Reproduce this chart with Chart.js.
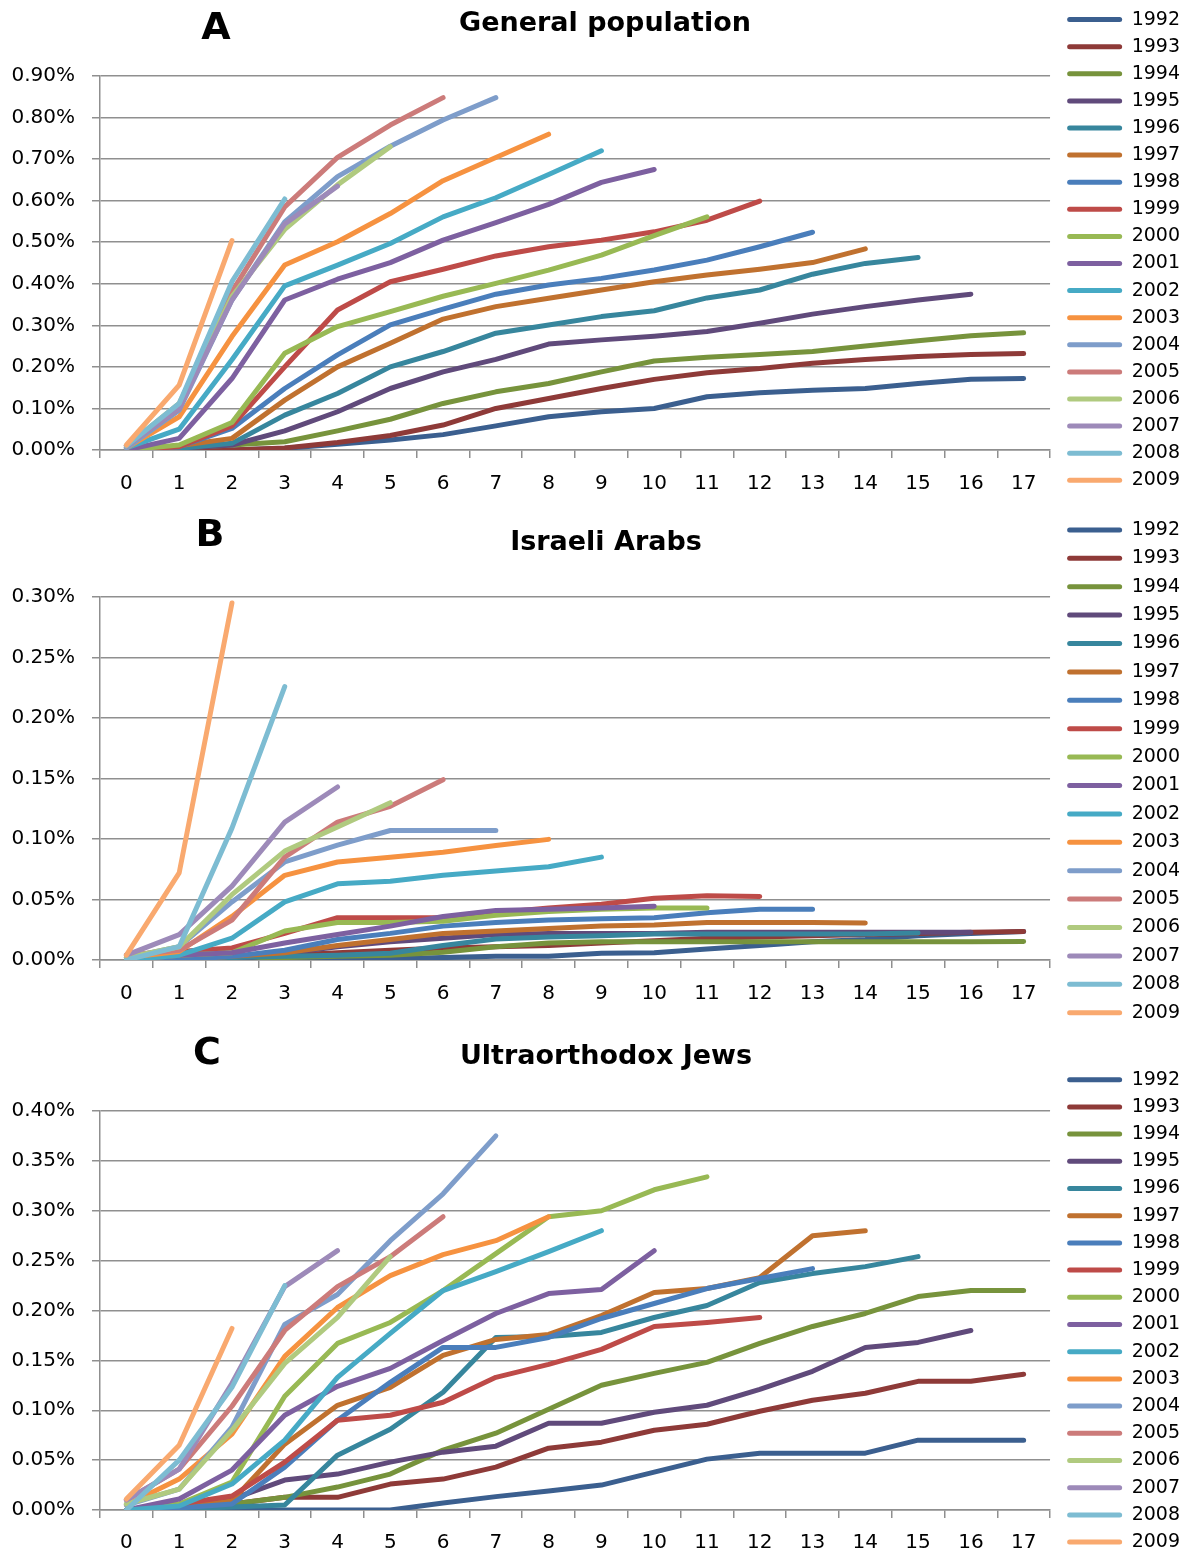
<!DOCTYPE html>
<html>
<head>
<meta charset="utf-8">
<script src="https://cdn.jsdelivr.net/npm/chart.js@4.4.1/dist/chart.umd.min.js"></script>
<style>
  html, body { margin: 0; padding: 0; background: #fff; overflow: hidden; width: 1188px; height: 1556px; }
  canvas { position: absolute; left: 2px; }
  .t { position: absolute; font-family: 'DejaVu Sans'; font-weight: bold; color: #000;
       transform: translate(-50%, -50%); white-space: nowrap; line-height: 1; z-index: 2; }
</style>
</head>
<body>
<div class="t" style="left:216px;top:26px;font-size:38px">A</div>
<div class="t" style="left:605px;top:21px;font-size:27px">General population</div>
<div class="t" style="left:210px;top:533px;font-size:38px">B</div>
<div class="t" style="left:606px;top:540px;font-size:27px">Israeli Arabs</div>
<div class="t" style="left:207px;top:1051px;font-size:38px">C</div>
<div class="t" style="left:606px;top:1054px;font-size:27px">Ultraorthodox Jews</div>

<canvas id="chartA" width="1188" height="500" style="top:2px;width:1188px;height:500px"></canvas>
<canvas id="chartB" width="1188" height="525" style="top:511px;width:1188px;height:525px"></canvas>
<canvas id="chartC" width="1188" height="500" style="top:1062px;width:1188px;height:500px"></canvas>

<script>
// years since cohort start
const steps = ['0','1','2','3','4','5','6','7','8','9','10','11','12','13','14','15','16','17'];
const years = ['1992','1993','1994','1995','1996','1997','1998','1999','2000',
               '2001','2002','2003','2004','2005','2006','2007','2008','2009'];
const colors = ['#3B5F8F','#8E3A38','#77933C','#604A7B','#37869D','#C0712F','#4A7EBB','#BE4B48','#98B954',
                '#7D60A0','#46AAC5','#F69240','#7E9DCA','#CC7B7A','#B0CA7F','#9D8AB9','#7DBCD2','#F9A96F'];

// cumulative %, one row per year (1992 .. 2009)
const generalPopulation = [
  [0,0,0,0.004,0.014,0.024,0.037,0.058,0.080,0.092,0.100,0.128,0.138,0.144,0.148,0.160,0.170,0.172],
  [0,0,0,0.005,0.018,0.035,0.060,0.100,0.124,0.148,0.170,0.186,0.196,0.209,0.218,0.225,0.230,0.232],
  [0,0.005,0.012,0.020,0.046,0.074,0.112,0.140,0.160,0.188,0.214,0.223,0.230,0.237,0.250,0.263,0.275,0.282],
  [0,0.004,0.012,0.046,0.092,0.148,0.188,0.218,0.255,0.265,0.274,0.285,0.305,0.327,0.345,0.361,0.375],
  [0,0.004,0.016,0.084,0.136,0.200,0.237,0.281,0.301,0.321,0.335,0.366,0.385,0.423,0.449,0.463],
  [0,0.010,0.028,0.120,0.200,0.257,0.315,0.345,0.365,0.385,0.405,0.421,0.435,0.451,0.484],
  [0,0.008,0.052,0.148,0.229,0.301,0.339,0.375,0.397,0.413,0.433,0.457,0.489,0.524],
  [0,0.008,0.058,0.200,0.337,0.405,0.435,0.467,0.489,0.505,0.525,0.553,0.599],
  [0,0.012,0.066,0.233,0.297,0.333,0.370,0.401,0.433,0.469,0.516,0.561],
  [0,0.028,0.172,0.361,0.411,0.451,0.505,0.547,0.591,0.644,0.675],
  [0.005,0.050,0.217,0.395,0.445,0.497,0.561,0.607,0.663,0.720],
  [0.005,0.080,0.273,0.445,0.501,0.569,0.648,0.704,0.760],
  [0.005,0.096,0.361,0.549,0.658,0.731,0.794,0.848],
  [0.010,0.100,0.381,0.585,0.704,0.782,0.848],
  [0.010,0.112,0.369,0.531,0.638,0.730],
  [0.010,0.100,0.361,0.544,0.635],
  [0.010,0.112,0.405,0.604],
  [0.012,0.156,0.504]
];

const israeliArabs = [
  [0,0,0,0,0,0.001,0.002,0.003,0.003,0.0055,0.006,0.009,0.012,0.015,0.017,0.020,0.022,0.0235],
  [0,0,0.002,0.004,0.006,0.008,0.010,0.011,0.012,0.014,0.016,0.018,0.019,0.020,0.021,0.022,0.023,0.0235],
  [0,0,0.001,0.002,0.003,0.004,0.0064,0.011,0.014,0.015,0.015,0.015,0.015,0.015,0.015,0.015,0.015,0.0152],
  [0,0,0,0.0055,0.011,0.015,0.018,0.021,0.022,0.022,0.022,0.023,0.023,0.023,0.023,0.023,0.023],
  [0,0,0.002,0.003,0.004,0.0055,0.012,0.0174,0.019,0.020,0.0215,0.0215,0.0215,0.0215,0.0215,0.0224],
  [0,0,0.003,0.006,0.012,0.017,0.022,0.024,0.026,0.028,0.029,0.031,0.031,0.031,0.0306],
  [0,0,0.003,0.008,0.017,0.022,0.028,0.031,0.033,0.034,0.035,0.039,0.042,0.042],
  [0,0.007,0.010,0.022,0.035,0.035,0.035,0.039,0.043,0.046,0.051,0.053,0.0525],
  [0,0.004,0.006,0.024,0.031,0.031,0.032,0.037,0.040,0.042,0.043,0.043],
  [0,0.004,0.006,0.014,0.021,0.028,0.036,0.041,0.042,0.043,0.0445],
  [0,0.004,0.018,0.048,0.063,0.065,0.070,0.0735,0.077,0.085],
  [0.002,0.007,0.036,0.070,0.081,0.085,0.089,0.0947,0.0997],
  [0.002,0.011,0.048,0.081,0.095,0.107,0.107,0.107],
  [0.004,0.008,0.033,0.085,0.114,0.127,0.149],
  [0.002,0.011,0.054,0.090,0.110,0.130],
  [0.004,0.021,0.061,0.114,0.143],
  [0,0.011,0.109,0.226],
  [0.004,0.072,0.295]
];

const ultraorthodox = [
  [0,0,0,0,0,0,0.007,0.0134,0.019,0.025,0.038,0.051,0.057,0.057,0.057,0.070,0.070,0.070],
  [0,0.003,0.006,0.0127,0.0127,0.026,0.031,0.043,0.062,0.068,0.080,0.086,0.099,0.110,0.117,0.129,0.129,0.136],
  [0,0.004,0.006,0.0127,0.023,0.036,0.060,0.077,0.101,0.125,0.137,0.148,0.167,0.184,0.197,0.214,0.220,0.220],
  [0,0.004,0.011,0.030,0.036,0.048,0.058,0.064,0.087,0.087,0.098,0.105,0.121,0.139,0.163,0.168,0.180],
  [0,0.001,0.003,0.005,0.055,0.081,0.118,0.173,0.174,0.178,0.193,0.205,0.228,0.237,0.244,0.254],
  [0,0.003,0.009,0.066,0.105,0.123,0.155,0.171,0.176,0.195,0.218,0.222,0.233,0.275,0.280],
  [0,0.002,0.006,0.043,0.090,0.128,0.163,0.163,0.173,0.192,0.207,0.222,0.232,0.242],
  [0,0.006,0.014,0.048,0.090,0.095,0.108,0.133,0.146,0.161,0.184,0.188,0.193],
  [0,0.006,0.028,0.114,0.167,0.188,0.220,0.257,0.294,0.300,0.321,0.334],
  [0,0.011,0.040,0.095,0.124,0.142,0.170,0.197,0.217,0.221,0.260],
  [0,0.004,0.026,0.070,0.133,0.177,0.220,0.239,0.259,0.280],
  [0.005,0.031,0.076,0.154,0.203,0.235,0.256,0.270,0.294],
  [0.005,0.021,0.083,0.186,0.216,0.270,0.317,0.375],
  [0.010,0.041,0.104,0.180,0.224,0.254,0.294],
  [0.006,0.021,0.080,0.147,0.193,0.254],
  [0.010,0.041,0.127,0.224,0.260],
  [0,0.050,0.123,0.225],
  [0.011,0.065,0.182]
];

Chart.defaults.font.family = "'DejaVu Sans'";
Chart.defaults.color = '#000';

const GRID = '#8f8f8f';

/** one panel: lines + legend on the right */
function makePanel(id, rows, p) {
  const datasets = rows.map((vals, i) => ({
    label: years[i],
    data: vals,
    borderColor: colors[i],
    backgroundColor: colors[i],
    borderWidth: 5,
    borderCapStyle: 'round',
    borderJoinStyle: 'round',
    pointRadius: 0,
    tension: 0,
    order: rows.length - i,   // later years drawn on top
  }));

  new Chart(document.getElementById(id), {
    type: 'line',
    data: { labels: steps, datasets },
    options: {
      responsive: false,
      animation: false,
      devicePixelRatio: 1,
      layout: { padding: 0 },
      plugins: {
        tooltip: { enabled: false },
        // empty title only reserves the space above the plot
        title: { display: true, text: '', fullSize: false, padding: { top: p.top - 1, bottom: 0 }, font: { size: 1, lineHeight: 1 } },
        legend: {
          position: 'right',
          align: 'start',
          fullSize: true,
          labels: {
            boxWidth: 55,
            boxHeight: 5,
            useBorderRadius: true,
            borderRadius: 2.5,
            padding: p.legendPad,
            font: { size: 19 },
            sort: (a, b) => a.datasetIndex - b.datasetIndex,
            generateLabels: chart => Chart.defaults.plugins.legend.labels.generateLabels(chart)
              .map(item => Object.assign(item, { lineWidth: 0 })),
          },
        },
      },
      scales: {
        x: {
          offset: true,
          grid: { drawOnChartArea: false, color: GRID, lineWidth: 1.5, tickLength: 8, offset: true },
          border: { color: GRID, width: 1.5 },
          ticks: { font: { size: 20 }, padding: p.xPad, autoSkip: false, maxRotation: 0 },
          afterFit: s => { s.height = p.xHeight; },
        },
        y: {
          min: 0,
          max: p.max,
          ticks: { stepSize: p.step, font: { size: 20 }, padding: 17, callback: v => v.toFixed(2) + '%' },
          grid: { color: GRID, lineWidth: 1.5, tickLength: 8 },
          border: { color: GRID, width: 1.5 },
          afterFit: s => { s.width = 98; },
        },
        // spacer between plot and legend
        gap: {
          position: 'right',
          display: true,
          grid: { display: false },
          border: { display: false },
          ticks: { display: false },
          afterFit: s => { s.width = p.gap; },
        },
      },
    },
  });
}

makePanel('chartA', generalPopulation, { max: 0.9, step: 0.1, top: 74, xHeight: 52, xPad: 14, legendPad: 8.1, gap: 9 });
makePanel('chartB', israeliArabs, { max: 0.3, step: 0.05, top: 86, xHeight: 76, xPad: 14, legendPad: 9.4, gap: 7.7 });
makePanel('chartC', ultraorthodox, { max: 0.4, step: 0.05, top: 49, xHeight: 52, xPad: 13, legendPad: 8.2, gap: 8.9 });
</script>
</body>
</html>
